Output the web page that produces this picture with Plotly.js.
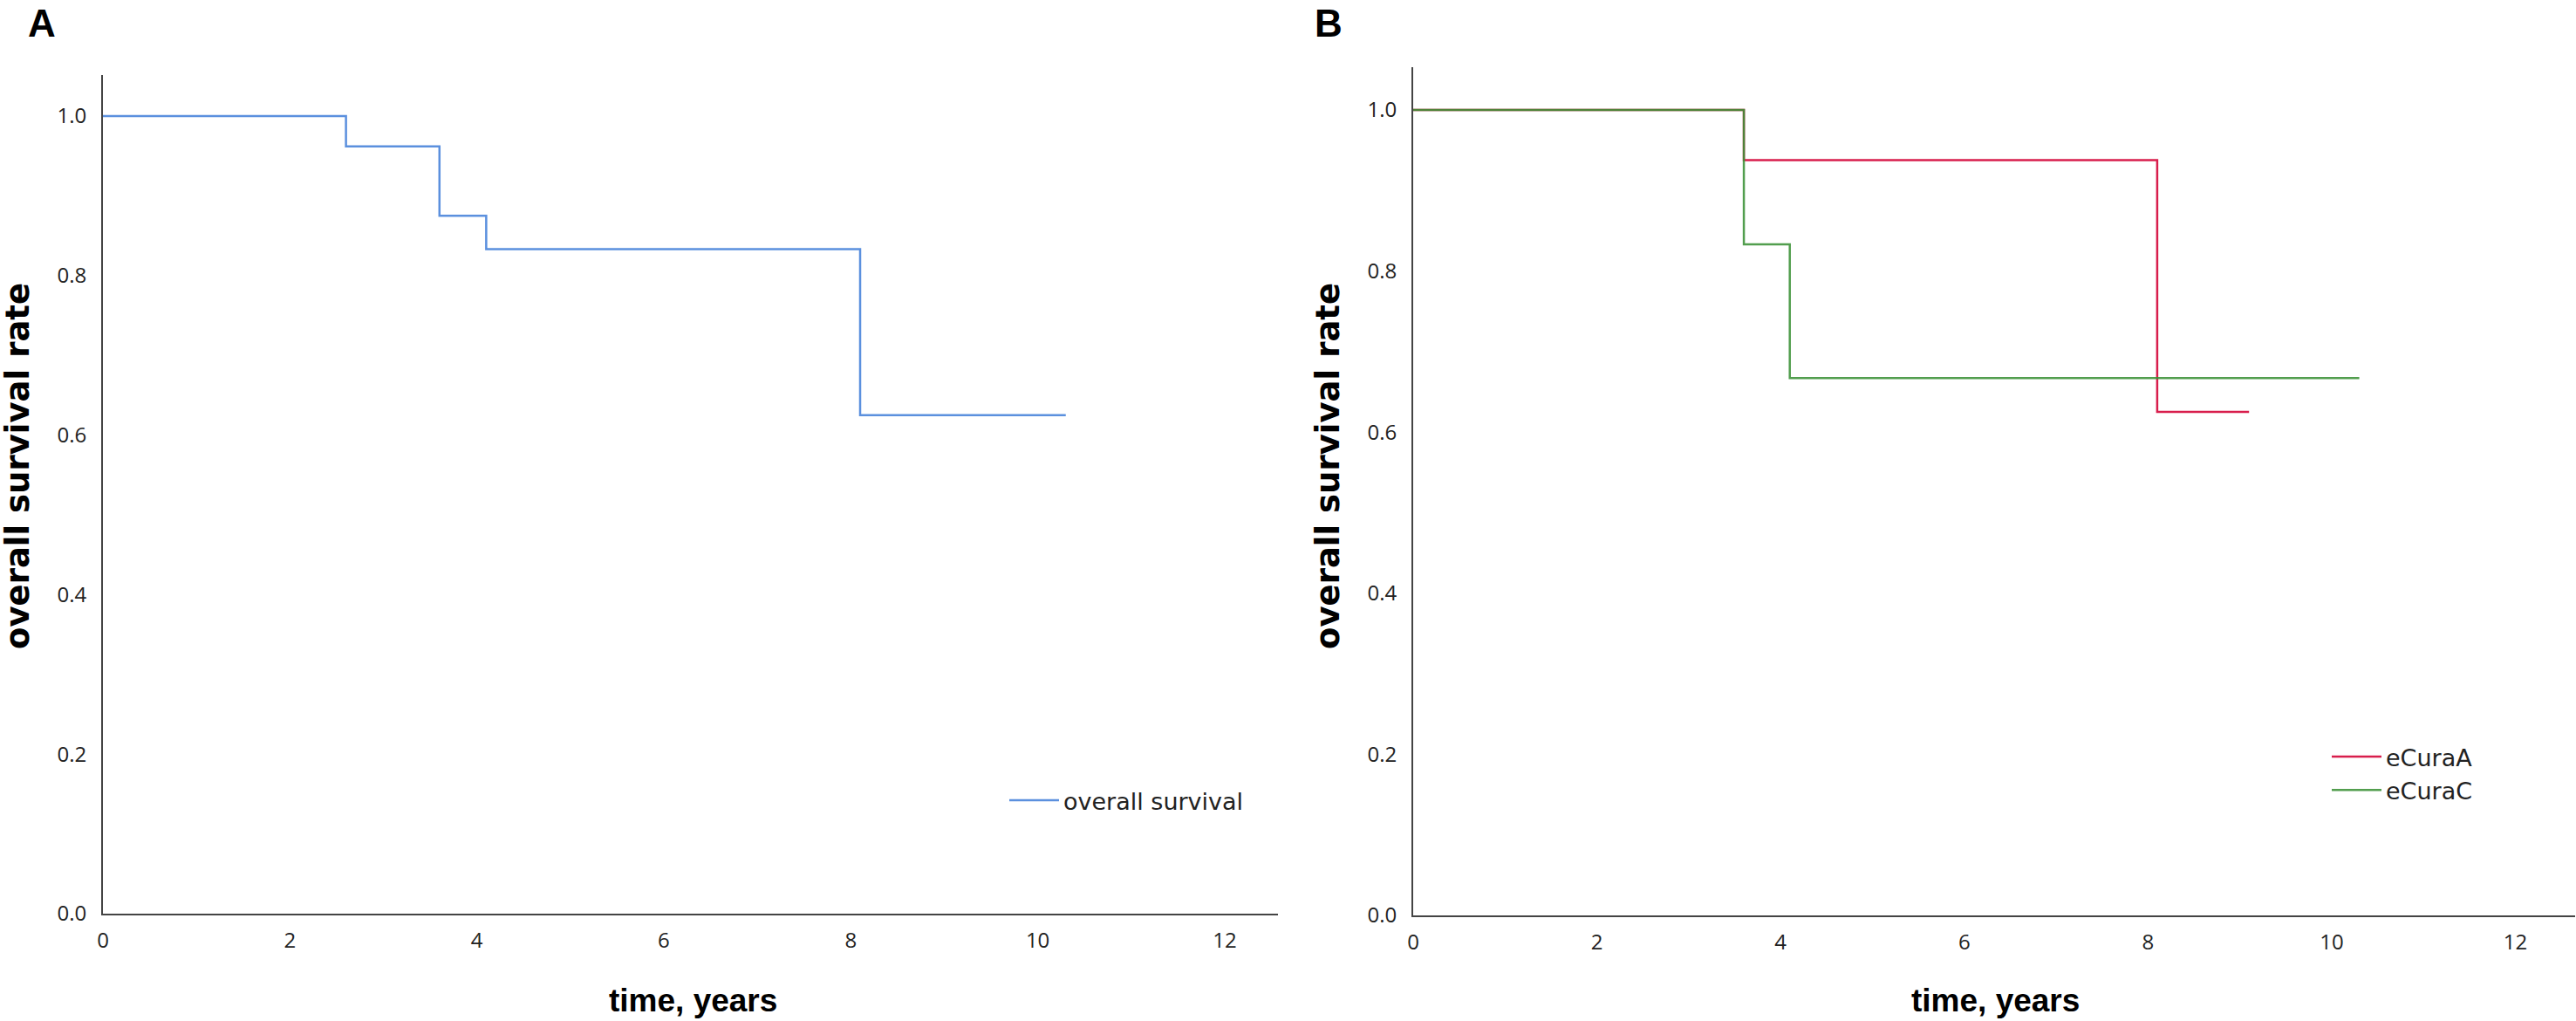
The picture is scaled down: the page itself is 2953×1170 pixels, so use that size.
<!DOCTYPE html>
<html><head><meta charset="utf-8">
<script src="https://cdn.plot.ly/plotly-3.0.1.min.js"></script>
<style>html,body{margin:0;padding:0;background:#fff;} #chart{width:2953px;height:1170px;}</style>
</head><body><div id="chart"></div>
<script>
// ---- data ----
const overallTime = [0, 2.6, 3.6, 4.1, 8.1, 10.3];
const overallSurv = [1.0, 0.962, 0.875, 0.833, 0.625, 0.625];
const eCuraATime = [0, 3.6, 8.1, 9.1];
const eCuraASurv = [1.0, 0.9375, 0.625, 0.625];
const eCuraCTime = [0, 3.6, 4.1, 10.3];
const eCuraCSurv = [1.0, 0.833, 0.667, 0.667];
const xTickVals = [0, 2, 4, 6, 8, 10, 12];
const yTickVals = [0, 0.2, 0.4, 0.6, 0.8, 1.0];
const panelLabels = ['A', 'B'];
const seriesNames = ['overall survival', 'eCuraA', 'eCuraC'];
const xTitleText = 'time, years';
const yTitleText = 'overall survival rate';

// ---- layout helpers (pixel geometry) ----
const W = 2953, H = 1170;
const px = v => v / W;
const py = v => 1 - v / H;

const tickFont = {family: 'Open Sans', size: 24, color: '#222'};
function xAxis(l, r, range) {
  return {domain: [px(l), px(r)], range: range, showline: true, linecolor: '#444', linewidth: 2,
    showgrid: false, zeroline: false, ticks: '', tickvals: xTickVals, tickfont: tickFont,
    ticklabelstandoff: 8, fixedrange: true};
}
function yAxis(b, t, range, anchor) {
  return {domain: [py(b), py(t)], range: range, showline: true, linecolor: '#444', linewidth: 2,
    showgrid: false, zeroline: false, ticks: '', tickvals: yTickVals, tickformat: '.1f',
    tickfont: tickFont, ticklabelstandoff: 12, anchor: anchor, fixedrange: true};
}

const traces = [
  {x: overallTime, y: overallSurv, name: seriesNames[0], mode: 'lines', line: {shape: 'hv', color: '#5b90de', width: 2.5},
   xaxis: 'x', yaxis: 'y', legend: 'legend'},
  {x: eCuraATime, y: eCuraASurv, name: seriesNames[1], mode: 'lines', line: {shape: 'hv', color: '#d81e4c', width: 2.5},
   xaxis: 'x2', yaxis: 'y2', legend: 'legend2'},
  {x: eCuraCTime, y: eCuraCSurv, name: seriesNames[2], mode: 'lines', line: {shape: 'hv', color: 'rgba(58,145,54,0.88)', width: 2.5},
   xaxis: 'x2', yaxis: 'y2', legend: 'legend2'}
];

const titleFontX = {family: 'Liberation Sans', size: 37, color: '#000', weight: 'bold'};
const titleFontY = {family: 'DejaVu Sans', size: 37, color: '#000', weight: 'bold'};
const letterFont = {family: 'Liberation Sans', size: 44, color: '#000', weight: 'bold'};

const annotations = [
  {text: panelLabels[0], x: px(48), y: py(0), xref: 'paper', yref: 'paper', showarrow: false, font: letterFont, xanchor: 'center', yanchor: 'top'},
  {text: panelLabels[1], x: px(1523), y: py(0), xref: 'paper', yref: 'paper', showarrow: false, font: letterFont, xanchor: 'center', yanchor: 'top'},
  {text: xTitleText, x: px(795), y: py(1146), xref: 'paper', yref: 'paper', showarrow: false, font: titleFontX, xanchor: 'center', yanchor: 'middle'},
  {text: xTitleText, x: px(2287), y: py(1146), xref: 'paper', yref: 'paper', showarrow: false, font: titleFontX, xanchor: 'center', yanchor: 'middle'},
  {text: yTitleText, x: px(21), y: py(534), xref: 'paper', yref: 'paper', showarrow: false, font: titleFontY, textangle: -90, xanchor: 'center', yanchor: 'middle'},
  {text: yTitleText, x: px(1523), y: py(534), xref: 'paper', yref: 'paper', showarrow: false, font: titleFontY, textangle: -90, xanchor: 'center', yanchor: 'middle'}
];

const legendFont = {family: 'DejaVu Sans', size: 27, color: '#222'};
const layout = {
  width: W, height: H, margin: {l: 0, r: 0, t: 0, b: 0},
  paper_bgcolor: '#fff', plot_bgcolor: '#fff',
  xaxis: xAxis(118, 1465, [0, 12.57]),
  yaxis: yAxis(1047, 86, [0, 1.0514], 'x'),
  xaxis2: xAxis(1620, 2952, [0, 12.65]),
  yaxis2: yAxis(1049, 77, [0, 1.053], 'x2'),
  annotations: annotations,
  showlegend: true,
  legend: {x: px(1152), y: py(893), xanchor: 'left', yanchor: 'top', font: legendFont, bgcolor: 'rgba(0,0,0,0)', itemwidth: 57, traceorder: 'normal'},
  legend2: {x: px(2668), y: py(843), xanchor: 'left', yanchor: 'top', font: legendFont, bgcolor: 'rgba(0,0,0,0)', itemwidth: 57, traceorder: 'normal', tracegroupgap: 0}
};
layout.xaxis2.anchor = 'y2';
layout.xaxis.anchor = 'y';

Plotly.newPlot('chart', traces, layout, {displayModeBar: false, staticPlot: true});
</script></body></html>
